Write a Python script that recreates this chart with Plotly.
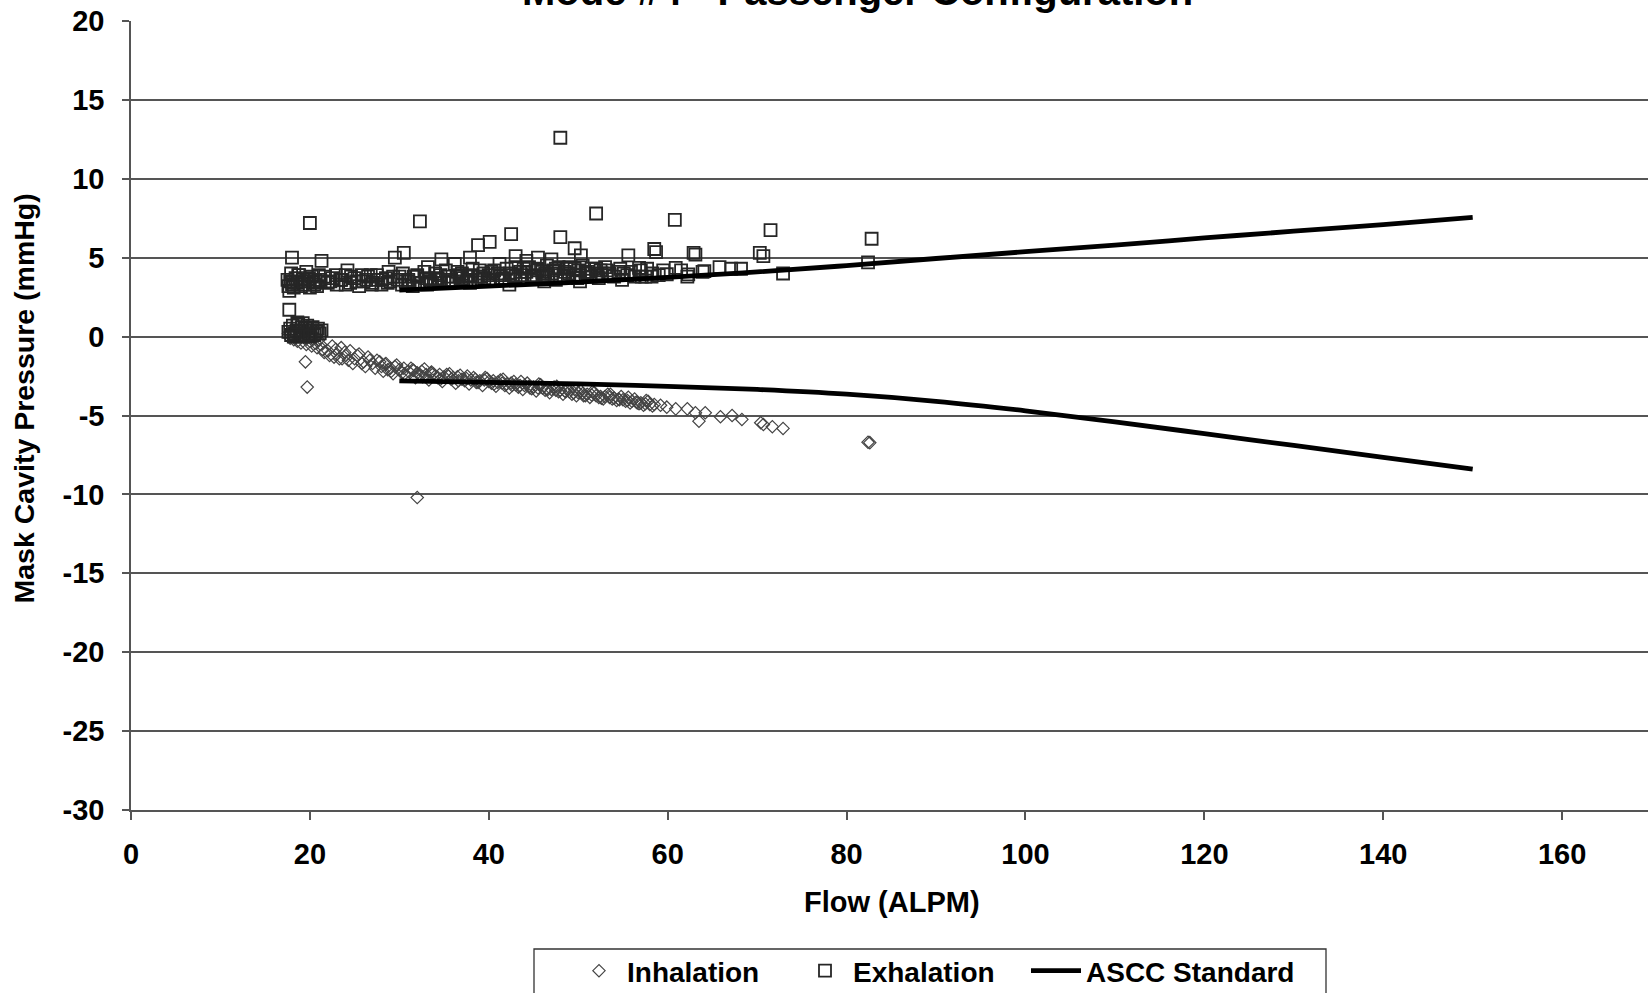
import plotly.graph_objects as go

# ---------------- data ----------------
inh_x = [17.6, 17.8, 18.0, 18.2, 18.4, 18.6, 18.8, 19.0, 19.2, 19.4, 19.6, 19.8, 20.0, 20.2, 20.4,
         20.6, 20.8, 21.0, 21.2, 21.4, 19.5, 19.7,
         22.0, 22.5, 23.0, 23.5, 24.0, 24.5, 25.0, 25.5, 26.0, 26.5, 27.0, 27.5, 28.0, 28.5, 29.0,
         29.5, 30.0, 30.5, 31.0, 31.5, 32.0, 32.0, 32.5, 33.0, 33.5, 34.0, 34.5, 35.0, 35.5, 36.0,
         36.5, 37.0, 37.5, 38.0, 38.5, 39.0, 39.5, 40.0, 40.5, 41.0, 41.5, 42.0, 42.5, 43.0, 43.5,
         44.0, 44.5, 45.0, 45.5, 46.0, 46.5, 47.0, 47.5, 48.0, 48.5, 49.0, 49.5, 50.0, 50.5, 51.0,
         51.5, 52.0, 52.5, 53.0, 53.5, 54.0, 54.5, 55.0, 55.5, 56.0, 56.5, 57.0, 57.5, 58.0, 58.5,
         59.2, 59.9, 60.9, 62.2, 63.1, 63.5, 64.2, 65.9, 67.2, 68.3, 70.4, 70.7, 71.7, 72.9, 82.4, 82.6,
         22.7, 23.6, 24.8, 26.2, 27.3, 28.2, 29.3, 30.8, 31.8, 33.3, 34.8, 36.3, 37.8, 39.3, 40.8,
         42.3, 43.8, 45.3, 46.8, 48.3, 49.8, 51.3, 52.8, 54.3, 55.8, 57.3]
inh_y = [0.2, -0.1, 0.3, -0.2, 0.1, -0.3, 0.0, -0.4, 0.2, -0.1, -0.5, 0.1, -0.3, -0.6, 0.0,
         -0.4, -0.7, -0.2, -0.5, -0.8, -1.6, -3.2,
         -0.9, -0.6, -1.1, -0.7, -1.2, -0.9, -1.4, -1.1, -1.6, -1.3, -1.7, -1.5, -1.9, -1.7, -2.0,
         -1.9, -2.1, -2.0, -2.2, -2.1, -10.2, -2.3, -2.2, -2.4, -2.3, -2.5, -2.4, -2.55, -2.5, -2.6,
         -2.55, -2.7, -2.65, -2.75, -2.7, -2.8, -2.75, -2.85, -2.8, -2.9, -2.95, -3.0, -2.95, -3.05, -3.1,
         -3.1, -3.15, -3.2, -3.25, -3.25, -3.3, -3.35, -3.4, -3.4, -3.45, -3.5, -3.55, -3.55, -3.6, -3.65,
         -3.7, -3.75, -3.8, -3.8, -3.85, -3.9, -3.95, -4.0, -4.05, -4.1, -4.15, -4.2, -4.25, -4.3, -4.3,
         -4.35, -4.47, -4.58, -4.58, -4.83, -5.36, -4.83, -5.08, -5.0, -5.25, -5.46, -5.57, -5.71, -5.82, -6.7, -6.72,
         -1.3, -1.4, -1.7, -1.9, -2.0, -2.2, -2.35, -2.5, -2.6, -2.75, -2.85, -2.95, -3.0, -3.1, -3.15,
         -3.25, -3.35, -3.45, -3.55, -3.65, -3.75, -3.85, -3.95, -4.05, -4.2, -4.35]
inh_x_band = [21.6, 22.2, 22.9, 23.3, 23.9, 24.3, 25.3, 25.8, 26.7, 27.8, 28.7, 29.7, 30.3, 31.3, 32.3,
              32.8, 33.8, 34.3, 35.3, 35.8, 36.8, 37.3, 38.3, 38.8, 39.8, 40.3, 41.3, 41.8, 42.8, 43.3,
              44.3, 44.8, 45.8, 46.3, 47.3, 47.8, 48.8, 49.3, 50.3, 50.8, 51.8, 52.3, 53.3, 53.8, 54.8,
              55.3, 56.3, 56.8, 57.8, 58.3]
inh_y_band = [-1.0, -1.2, -0.8, -1.4, -1.0, -1.5, -1.2, -1.7, -1.5, -1.6, -2.1, -1.8, -2.3, -2.0, -2.4,
              -2.05, -2.35, -2.6, -2.4, -2.7, -2.45, -2.8, -2.6, -2.9, -2.65, -2.95, -2.75, -3.1, -2.85, -3.2,
              -2.95, -3.3, -3.05, -3.4, -3.2, -3.5, -3.3, -3.65, -3.45, -3.75, -3.55, -3.85, -3.65, -3.95, -3.8,
              -4.1, -3.95, -4.25, -4.1, -4.4]
inh_x_band2 = [28.4, 29.1, 30.6, 31.6, 32.6, 33.6, 34.6, 35.6, 36.6, 37.6, 38.6, 39.6, 40.6, 41.6, 42.6,
               43.6, 44.6, 45.6, 46.6, 47.6, 48.6, 49.6, 50.6, 51.6, 52.6, 53.6, 54.6, 55.6, 56.6, 57.6]
inh_y_band2 = [-1.75, -2.2, -2.35, -2.15, -2.55, -2.25, -2.7, -2.35, -2.8, -2.5, -2.9, -2.6, -3.0, -2.7, -3.1,
               -2.85, -3.25, -3.0, -3.35, -3.15, -3.5, -3.35, -3.75, -3.5, -3.9, -3.65, -4.0, -3.85, -4.2, -4.05]

exh_x = [17.6, 17.8, 17.9, 18.1, 18.3, 18.5, 18.7, 18.9, 19.1, 19.3, 19.5, 19.7, 19.9, 20.1, 20.3,
         20.5, 20.7, 20.9, 21.1, 21.3, 18.2, 19.0, 20.0, 17.7, 19.2, 18.6,
         17.6, 17.7, 17.8, 17.9, 18.0, 18.0, 18.2, 18.4, 18.6, 18.8, 19.0, 19.2, 19.4, 19.6, 19.8,
         20.0, 20.2, 20.4, 20.6, 20.8, 21.0, 21.2, 21.3, 20.0,
         22.0, 22.5, 23.0, 23.5, 24.0, 24.5, 25.0, 25.5, 26.0, 26.5, 27.0, 27.5, 28.0, 28.5, 29.0,
         29.5, 30.0, 30.5, 24.2, 26.8, 28.8,
         30.3, 31.0, 31.5, 32.0, 32.3, 32.5, 33.0, 33.5, 34.0, 34.5, 34.7, 35.0, 35.5, 36.0, 36.5,
         37.0, 37.5, 37.9, 38.0, 38.5, 38.8, 39.0, 39.5, 40.0, 40.1, 33.2, 36.2,
         40.5, 41.0, 41.5, 42.0, 42.5, 42.3, 43.0, 43.0, 43.5, 44.0, 44.5, 45.0, 45.5, 45.5, 46.0,
         46.5, 47.0, 47.0, 47.5, 48.0, 48.0, 48.0, 48.5, 49.0, 49.5, 49.6, 50.0, 50.3, 44.2, 46.2, 41.2,
         50.2, 50.5, 51.0, 51.5, 52.0, 52.0, 52.5, 53.0, 53.5, 54.0, 54.5, 54.9, 55.6, 55.5, 56.3,
         57.0, 57.7, 58.5, 58.7, 59.0, 59.9, 60.8, 55.1, 56.8, 57.5, 58.2,
         60.9, 61.5, 62.2, 62.3, 62.9, 63.1, 63.9, 64.1, 65.8, 67.1, 68.2, 70.3, 70.7, 71.5, 72.9, 82.4, 82.8]
exh_y = [0.3, 0.5, 0.1, 0.7, 0.2, 0.4, 0.8, 0.3, 0.6, 0.1, 0.5, 0.7, 0.2, 0.4, 0.6,
         0.1, 0.3, 0.5, 0.2, 0.4, 0.0, 0.0, 0.0, 1.7, 0.85, 0.9,
         3.2, 2.9, 3.5, 4.0, 3.3, 5.0, 3.1, 3.7, 3.4, 3.9, 3.2, 3.6, 3.3, 4.1, 3.5,
         3.1, 3.8, 3.4, 3.6, 3.2, 3.9, 3.5, 4.8, 7.2,
         3.4, 3.7, 3.3, 3.6, 3.9, 3.4, 3.7, 3.2, 3.5, 3.8, 3.4, 3.6, 3.3, 3.7, 3.5,
         5.0, 3.8, 5.3, 4.2, 3.9, 4.1,
         3.3, 3.6, 3.2, 3.9, 7.3, 3.4, 3.7, 3.5, 4.0, 3.6, 4.9, 3.4, 3.8, 3.5, 4.1,
         3.7, 3.5, 5.0, 3.9, 3.6, 5.8, 4.2, 3.7, 3.9, 6.0, 4.4, 4.6,
         3.6, 4.0, 3.7, 4.3, 6.5, 3.3, 3.8, 5.1, 4.1, 3.7, 4.4, 3.9, 4.2, 5.0, 3.8,
         4.5, 4.0, 4.9, 4.3, 3.9, 6.3, 12.6, 4.1, 4.4, 3.9, 5.6, 4.2, 5.15, 4.8, 3.5, 4.6,
         3.5, 4.5, 4.0, 4.3, 7.8, 3.9, 4.2, 4.4, 4.0, 3.8, 4.1, 3.6, 5.15, 3.9, 3.8,
         4.2, 4.3, 5.55, 5.35, 3.9, 3.95, 7.4, 4.0, 4.36, 3.8, 3.8,
         4.36, 4.2, 3.8, 3.94, 5.3, 5.2, 4.1, 4.15, 4.4, 4.3, 4.3, 5.3, 5.1, 6.75, 4.0, 4.7, 6.2]
exh_x_band = [17.5, 18.1, 18.7, 19.3, 19.9, 20.5, 21.1, 21.7, 22.3, 22.9, 23.4, 24.0, 24.6, 25.2, 25.8,
              26.3, 26.9, 27.5, 28.1, 28.7, 29.3, 29.8, 30.4, 31.0, 31.6, 32.2, 32.8, 33.4, 34.0, 34.6,
              35.2, 35.8, 36.4, 37.0, 37.6, 38.2, 38.8, 39.4, 40.0, 40.6, 41.2, 41.8, 42.4, 43.0, 43.6,
              44.2, 44.8, 45.4, 46.0, 46.6, 47.2, 47.8, 48.4, 49.0, 49.6, 50.2, 50.8, 51.4, 52.0, 52.6, 53.2]
exh_y_band = [3.6, 3.4, 3.9, 3.5, 3.7, 3.3, 3.6, 3.8, 3.5, 3.9, 3.6, 3.3, 3.8, 3.5, 3.9,
              3.6, 3.3, 3.9, 3.6, 3.4, 3.8, 3.6, 4.0, 3.5, 3.8, 3.4, 4.1, 3.6, 3.4, 3.9,
              4.2, 3.6, 3.8, 4.0, 3.8, 4.3, 3.8, 4.0, 3.6, 4.2, 3.9, 3.6, 4.0, 4.4, 3.9,
              4.1, 3.8, 4.3, 4.1, 3.9, 4.2, 4.4, 3.8, 4.0, 4.3, 3.9, 4.1, 3.8, 4.3, 4.0, 4.2]
exh_x_band2 = [30.7, 31.9, 33.1, 34.3, 35.5, 36.7, 37.9, 39.1, 40.3, 41.5, 42.7, 43.9, 45.1, 46.3, 47.5,
               48.7, 49.9, 51.1, 52.3, 53.5, 54.7, 55.9, 57.1, 58.3, 59.5]
exh_y_band2 = [3.5, 3.8, 3.3, 3.7, 3.5, 3.9, 3.4, 3.8, 4.1, 3.6, 3.9, 4.3, 3.7, 4.0, 3.6,
               4.3, 3.7, 4.1, 3.7, 3.9, 4.3, 4.1, 3.8, 4.0, 4.2]

ascc_x = [30, 40, 50, 60, 70, 80, 90, 100, 110, 120, 130, 140, 150]
ascc_upper = [2.95, 3.2, 3.45, 3.75, 4.1, 4.5, 4.95, 5.38, 5.8, 6.25, 6.68, 7.1, 7.55]
ascc_lower = [-2.8, -2.9, -3.0, -3.15, -3.35, -3.65, -4.1, -4.7, -5.4, -6.15, -6.9, -7.65, -8.4]

x_ticks = [0, 20, 40, 60, 80, 100, 120, 140, 160]
y_ticks = [20, 15, 10, 5, 0, -5, -10, -15, -20, -25, -30]
y_tick_text = ["20", "15", "10", "5", "0", "-5", "-10", "-15", "-20", "-25", "-30"]

# ---------------- layout geometry (pixels) ----------------
W, H = 1648, 993
L, R, T, B = 131, 0, 21, 183
pw, ph = W - L - R, H - T - B

def px(xp):
    return (xp - L) / pw

def py(yp):
    return (H - B - yp) / ph

FONT = "Liberation Sans, Arial, sans-serif"
GRID = "#555555"
LEG_FONT = dict(family=FONT, size=28, color="black", weight="bold")
LEG_Y = 1 - 971 / H

fig = go.Figure()

fig.add_trace(go.Scatter(
    x=inh_x + inh_x_band + inh_x_band2, y=inh_y + inh_y_band + inh_y_band2,
    mode="markers", name="Inhalation", legend="legend",
    marker=dict(symbol="diamond-open", size=9.5, color="#444444", line=dict(width=1.2, color="#444444")),
))
fig.add_trace(go.Scatter(
    x=exh_x + exh_x_band + exh_x_band2, y=exh_y + exh_y_band + exh_y_band2,
    mode="markers", name="Exhalation", legend="legend2",
    marker=dict(symbol="square-open", size=12, color="#262626", line=dict(width=1.8, color="#262626")),
))
fig.add_trace(go.Scatter(
    x=ascc_x, y=ascc_upper, mode="lines", name="ASCC Standard", legend="legend3",
    line=dict(color="black", width=4.8, shape="spline"), legendgroup="ascc",
))
fig.add_trace(go.Scatter(
    x=ascc_x, y=ascc_lower, mode="lines", name="ASCC Standard", showlegend=False, legend="legend3",
    line=dict(color="black", width=4.8, shape="spline"), legendgroup="ascc",
))

def leg(xpix, itemwidth=30):
    return dict(
        orientation="h", xref="container", yref="container",
        x=xpix / W, y=LEG_Y, xanchor="left", yanchor="middle",
        bgcolor="rgba(0,0,0,0)", borderwidth=0, font=LEG_FONT, itemwidth=itemwidth,
    )

fig.update_layout(
    width=W, height=H,
    margin=dict(l=L, r=R, t=T, b=B, autoexpand=False),
    paper_bgcolor="white", plot_bgcolor="white",
    font=dict(family=FONT, size=27, color="black"),
    showlegend=True,
    legend=leg(571, itemwidth=46),
    legend2=leg(797, itemwidth=46),
    legend3=leg(1026, itemwidth=50),
    xaxis=dict(
        range=[0, 169.6], tickmode="array", tickvals=x_ticks,
        showgrid=False, zeroline=False, showline=True, linecolor=GRID, linewidth=1.5,
        ticks="outside", ticklen=8, tickcolor=GRID, tickwidth=1.5,
        tickfont=dict(family=FONT, size=29, color="black", weight="bold"),
        ticklabelstandoff=9,
    ),
    yaxis=dict(
        range=[-30, 20], tickmode="array", tickvals=y_ticks, ticktext=y_tick_text,
        showgrid=True, gridcolor=GRID, gridwidth=1.5,
        zeroline=False, showline=True, linecolor=GRID, linewidth=1.5,
        ticks="outside", ticklen=7, tickcolor=GRID, tickwidth=1.5,
        tickfont=dict(family=FONT, size=29, color="black", weight="bold"),
        ticklabelstandoff=12,
    ),
    shapes=[dict(
        type="rect", xref="paper", yref="paper",
        x0=px(534), x1=px(1326), y0=py(1000), y1=py(949),
        line=dict(color="#333333", width=1.3), fillcolor="rgba(0,0,0,0)", layer="above",
    )],
    annotations=[
        dict(text="<b>Mode #4 - Passenger Configuration</b>", xref="paper", yref="paper",
             x=px(857), y=py(-8.6), xanchor="center", yanchor="middle", showarrow=False,
             font=dict(family=FONT, size=40, color="black")),
        dict(text="<b>Flow (ALPM)</b>", xref="paper", yref="paper",
             x=px(892), y=py(902), xanchor="center", yanchor="middle", showarrow=False,
             font=dict(family=FONT, size=29, color="black")),
        dict(text="<b>Mask Cavity Pressure (mmHg)</b>", xref="paper", yref="paper",
             x=px(23.5), y=py(399), xanchor="center", yanchor="middle", showarrow=False,
             textangle=-90, font=dict(family=FONT, size=28.5, color="black")),
    ],
)

fig.write_html("out.html", config={"displayModeBar": False},
               post_script="document.body.style.margin='0px';")
